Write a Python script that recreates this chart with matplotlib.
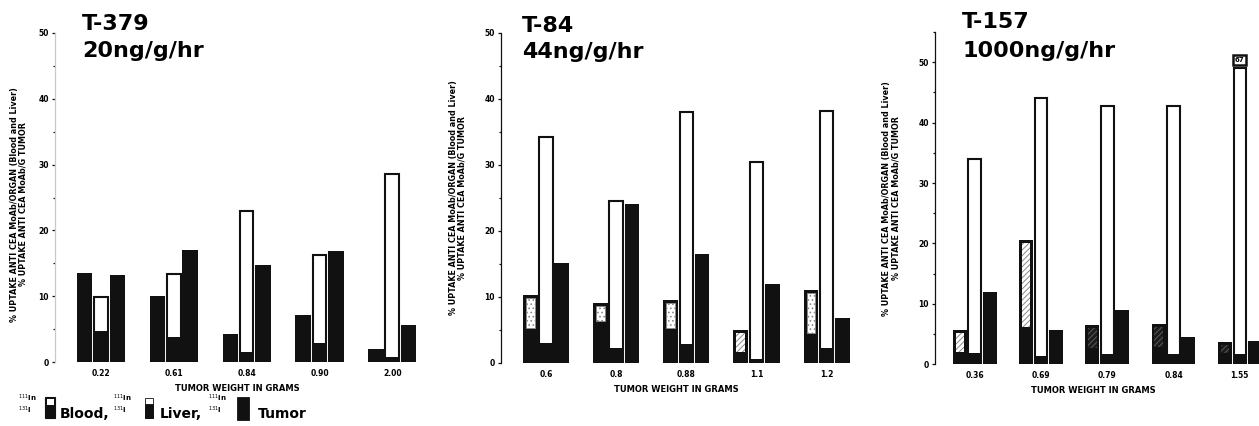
import numpy as np
import matplotlib
matplotlib.use("Agg")
import matplotlib.pyplot as plt
from matplotlib.patches import Rectangle

# ---- data -------------------------------------------------------------
# T-379, 20 ng/g/hr
weights_t379 = ["0.22", "0.61", "0.84", "0.90", "2.00"]
blood_in_t379 = [13.6, 10.1, 4.3, 7.2, 1.9]
blood_i_t379 = [13.6, 10.1, 4.3, 7.2, 1.9]
liver_in_t379 = [9.9, 13.3, 23.0, 16.3, 28.6]
liver_i_t379 = [4.7, 3.8, 1.5, 2.9, 0.8]
tumor_t379 = [13.2, 17.0, 14.7, 16.8, 5.6]

# T-84, 44 ng/g/hr
weights_t84 = ["0.6", "0.8", "0.88", "1.1", "1.2"]
blood_in_t84 = [10.3, 9.1, 9.5, 5.0, 11.1]
blood_i_t84 = [5.3, 6.3, 5.3, 1.7, 4.5]
liver_in_t84 = [34.2, 24.6, 38.0, 30.5, 38.2]
liver_i_t84 = [3.0, 2.2, 2.9, 0.6, 2.2]
tumor_t84 = [15.2, 24.1, 16.5, 12.0, 6.8]

# T-157, 1000 ng/g/hr
weights_t157 = ["0.36", "0.69", "0.79", "0.84", "1.55"]
blood_in_t157 = [5.6, 20.6, 6.5, 6.7, 3.7]
blood_i_t157 = [2.0, 6.2, 2.7, 2.9, 1.9]
liver_in_t157 = [33.9, 44.0, 42.8, 42.7, 67]
liver_i_t157 = [1.9, 1.4, 1.7, 1.7, 1.7]
tumor_t157 = [11.9, 5.6, 9.0, 4.6, 3.9]

titles = [("T-379", "20ng/g/hr"), ("T-84", "44ng/g/hr"), ("T-157", "1000ng/g/hr")]
ylabel_text = "% UPTAKE ANTI CEA MoAb/ORGAN (Blood and Liver)\n% UPTAKE ANTI CEA MoAb/G TUMOR"
xlabel_text = "TUMOR WEIGHT IN GRAMS"

# ---- styling ----------------------------------------------------------
DARK = "#111111"
W, H = 1259, 426
plt.rcParams["font.family"] = ["DejaVu Sans"]
plt.rcParams["hatch.linewidth"] = 0.7

STIPPLE = dict(facecolor="white", edgecolor="#8a8a8a", hatch="....", linewidth=0.6)
DIAG = dict(facecolor="white", edgecolor="#8a8a8a", hatch="//////", linewidth=0.0)
DIAG_DARK = dict(facecolor="#1c1c1c", edgecolor="#5a5a5a", hatch="//////", linewidth=0.0)

fig = plt.figure(figsize=(W / 100, H / 100), dpi=100)
fig.patch.set_facecolor("white")


def px_rect(left, right, top, bottom):
    return [left / W, 1 - bottom / H, (right - left) / W, (bottom - top) / H]


def draw_panel(ax, weights, blood_in, blood_i, liver_in, liver_i, tumor,
               insets, ymax, spine_color, cap=None):
    x = np.arange(len(weights))
    pitch, w = 0.225, 0.21
    blood_in = np.asarray(blood_in, float)
    blood_i = np.asarray(blood_i, float)
    liver_in = np.asarray(liver_in, float)

    # blood: dark outer bar, 111In part shown as an inset panel above the 131I part
    ax.bar(x - pitch, np.maximum(blood_in, blood_i), w, color=DARK, zorder=2)
    for xi, lo, hi, st in zip(x - pitch, blood_i, blood_in, insets):
        if st is not None and hi - lo > 0.8:
            ax.bar(xi, hi - lo - 0.45, w * 0.6, bottom=lo, zorder=3, **st)

    # liver: open 111In bar with the 131I part filled
    drawn = liver_in if cap is None else np.minimum(liver_in, cap)
    ax.bar(x, drawn, w * 0.9, facecolor="white", edgecolor=DARK, linewidth=1.5, zorder=2)
    ax.bar(x, liver_i, w, color=DARK, zorder=3)
    if cap is not None:
        for xi, v in zip(x, liver_in):
            if v > cap:
                ax.text(xi, cap + 0.9, f"{v:g}", ha="center", va="bottom", fontsize=5,
                        fontweight="bold", zorder=4,
                        bbox=dict(boxstyle="square,pad=0.25", facecolor="white",
                                  edgecolor=DARK, linewidth=1.8))

    # tumor
    ax.bar(x + pitch, tumor, w, color=DARK, zorder=2)

    ax.set_ylim(0, ymax)
    ax.set_yticks(np.arange(0, 51, 10))
    ax.set_yticks([v for v in np.arange(5, ymax + 0.1, 5) if v % 10], minor=True)
    ax.set_xticks(x, weights)
    for s in ("top", "right", "bottom"):
        ax.spines[s].set_visible(False)
    ax.spines["left"].set_color(spine_color)
    ax.spines["left"].set_linewidth(0.9)
    ax.tick_params(axis="y", which="major", length=2.5, width=0.9, pad=2,
                   labelsize=5.5, color=DARK)
    ax.tick_params(axis="y", which="minor", length=1.5, width=0.9, color=DARK)
    ax.tick_params(axis="x", length=0, pad=5, labelsize=5.5)
    for lab in ax.get_xticklabels() + ax.get_yticklabels():
        lab.set_fontweight("bold")
    ax.set_facecolor("white")


panels = [
    dict(rect=px_rect(55, 420, 33, 362), xlim=(-0.63, 4.38), ymax=50,
         data=(weights_t379, blood_in_t379, blood_i_t379, liver_in_t379, liver_i_t379, tumor_t379),
         insets=[None] * 5, spine="#c9c9c9", cap=None,
         ylab=(-0.074, 0.48), xlab=0.50,
         title_x=82, base1=30, base2=57),
    dict(rect=px_rect(501, 852, 33, 363), xlim=(-0.64, 4.36), ymax=50,
         data=(weights_t84, blood_in_t84, blood_i_t84, liver_in_t84, liver_i_t84, tumor_t84),
         insets=[STIPPLE, STIPPLE, STIPPLE, DIAG, STIPPLE], spine=DARK, cap=None,
         ylab=(-0.097, 0.50), xlab=0.50,
         title_x=522, base1=32, base2=58),
    dict(rect=px_rect(935, 1259, 32, 364.3), xlim=(-0.60, 4.29), ymax=55,
         data=(weights_t157, blood_in_t157, blood_i_t157, liver_in_t157, liver_i_t157, tumor_t157),
         insets=[DIAG, DIAG, DIAG_DARK, DIAG_DARK, DIAG_DARK], spine=DARK, cap=49.0,
         ylab=(-0.108, 0.50), xlab=0.49,
         title_x=962, base1=28, base2=57),
]

for p, (t1, t2) in zip(panels, titles):
    ax = fig.add_axes(p["rect"])
    draw_panel(ax, *p["data"], insets=p["insets"], ymax=p["ymax"],
               spine_color=p["spine"], cap=p["cap"])
    ax.set_xlim(*p["xlim"])
    ax.set_ylabel(ylabel_text, fontsize=5.8, fontweight="bold", linespacing=1.05)
    ax.yaxis.set_label_coords(*p["ylab"])
    ax.text(p["xlab"], -0.08, xlabel_text, transform=ax.transAxes, ha="center",
            va="center", fontsize=6, fontweight="bold")
    fig.text(p["title_x"] / W, 1 - p["base1"] / H, t1, fontsize=16,
             fontweight="bold", va="baseline", ha="left")
    fig.text(p["title_x"] / W, 1 - p["base2"] / H, t2, fontsize=16,
             fontweight="bold", va="baseline", ha="left")

# ---- legend (isotope key) ---------------------------------------------
def fig_rect(left, top, width, height, **kw):
    fig.add_artist(Rectangle((left / W, 1 - (top + height) / H), width / W, height / H,
                             transform=fig.transFigure, **kw))


def iso_key(xpx):
    fig.text(xpx / W, 1 - 401 / H, r"$^{111}$In", fontsize=5, fontweight="bold",
             va="baseline", ha="left")
    fig.text(xpx / W, 1 - 413 / H, r"$^{131}$I", fontsize=5, fontweight="bold",
             va="baseline", ha="left")


iso_key(18)
fig_rect(45, 397, 10, 21, facecolor=DARK, edgecolor=DARK, linewidth=0.8)
fig_rect(46.5, 398.5, 7, 6, facecolor="white", edgecolor="none")
fig.text(60 / W, 1 - 418 / H, "Blood,", fontsize=10, fontweight="bold", va="baseline")

iso_key(113)
fig_rect(145, 398, 8, 20, facecolor="white", edgecolor=DARK, linewidth=0.6)
fig_rect(145, 404, 8, 14, facecolor=DARK, edgecolor=DARK, linewidth=0.6)
fig.text(160 / W, 1 - 418 / H, "Liver,", fontsize=10, fontweight="bold", va="baseline")

iso_key(208)
fig_rect(237, 397, 12, 23, facecolor=DARK, edgecolor=DARK, linewidth=0.6)
fig.text(258 / W, 1 - 418 / H, "Tumor", fontsize=10, fontweight="bold", va="baseline")

fig.savefig("out.png", dpi=100, facecolor="white")
